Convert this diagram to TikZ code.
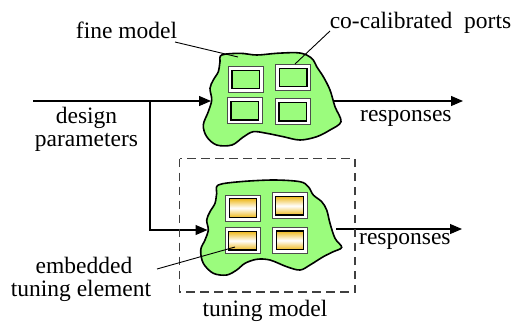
\documentclass[tikz,border=0pt]{standalone}
\usepackage{fontspec}
\setmainfont{Liberation Serif}
\newfontfamily\lbfont{Liberation Serif}
\usetikzlibrary{arrows.meta}
\definecolor{blobgreen}{RGB}{155,252,125}
\definecolor{goldy}{RGB}{238,185,30}
\begin{document}
\begin{tikzpicture}[x=1pt,y=-1pt,
  lbl/.style={font=\lbfont\fontsize{23.5}{22.5}\selectfont, inner sep=0pt},
  blob/.style={draw=black, line width=1.6pt, fill=blobgreen},
  conn/.style={draw=black, line width=1.1pt},
  arr/.style={conn, -{Triangle[length=12pt,width=10pt]}},
  leader/.style={draw=black, line width=0.9pt},
  portout/.style={draw=black!70, fill=white, line width=0.9pt, minimum width=35pt, minimum height=26pt, inner sep=0pt},
  portin/.style={draw=black, line width=1.2pt, minimum width=27.5pt, minimum height=18.5pt, inner sep=0pt},
  greenport/.style={portin, fill=blobgreen},
  goldport/.style={portin, top color=goldy, bottom color=goldy, middle color=white},
  tunebox/.style={draw=black!75, line width=1.1pt, dash pattern=on 8.5pt off 5.5pt}
]
\useasboundingbox (0,0) rectangle (513,322);

% connector coordinates
\coordinate (dp) at (33,101);
\coordinate (jn) at (150,101);
\coordinate (fin) at (211,101);
\coordinate (tin) at (207.5,230);
\coordinate (fout) at (334,101);
\coordinate (fend) at (463,101);
\coordinate (tout) at (336,229);
\coordinate (tend) at (462,229);

\draw[conn] (dp) -- (jn);
\draw[arr] (jn) -- (fin);
\draw[arr] (jn) |- (tin);
\draw[arr] (fout) -- (fend);
\draw[arr] (tout) -- (tend);

% fine model blob
\path[blob] plot[smooth cycle, tension=0.55] coordinates {
 (221.7,55) (240,53.3) (256.7,55) (276.7,53.3) (296.7,52.7) (306.7,55)
 (313.3,60) (316.7,66.7) (323.3,76.7) (330,90) (335,106.7) (341,121.7)
 (330,130) (316.7,136.7) (300,140) (283.3,136.7) (266.7,133.3) (253.3,131.7)
 (243.3,137) (232,145) (216.7,145) (206.7,136.7) (203.3,125) (208.3,111.7)
 (211.7,100) (210,88.3) (213.3,80) (218.3,71.7) (220,61.7)};

% tuning model blob
\path[blob] plot[smooth cycle, tension=0.55] coordinates {
 (218.3,185) (240,181.7) (273.3,180) (300,181.7) (308.3,186.7) (313.3,195)
 (321.7,201.7) (326.7,210) (330,223.3) (335,238.3) (341.7,247.3) (333.3,251.7)
 (323.3,256.7) (310,265) (300,270) (286.7,266.7) (270,260) (256.7,259.3)
 (245,263.3) (236.7,270) (226.7,275) (213.3,273.3) (203.3,263.3) (200.7,250)
 (205,240) (208.3,230) (206.7,220) (210,211.7) (215,203.3) (216.7,193.3)};

% ports of fine model
\node[portout] (f1) at (245.8,79.5) {};
\node[greenport] (f1i) at (f1) {};
\node[portout] (f2) at (293.3,77.5) {};
\node[greenport] (f2i) at (f2) {};
\node[portout] (f3) at (244.7,110.8) {};
\node[greenport] (f3i) at (f3) {};
\node[portout] (f4) at (292.8,111.7) {};
\node[greenport] (f4i) at (f4) {};

% ports of tuning model
\node[portout] (t1) at (243,208) {};
\node[goldport] (t1i) at (t1) {};
\node[portout] (t2) at (289.5,205.8) {};
\node[goldport] (t2i) at (t2) {};
\node[portout] (t3) at (242.5,240.7) {};
\node[goldport] (t3i) at (t3) {};
\node[portout] (t4) at (290,240.3) {};
\node[goldport] (t4i) at (t4) {};

% dashed tuning model box
\draw[tunebox] (179.5,158.5) rectangle (355,292);

% labels
\node[lbl, anchor=base] (fm) at (126.5,38.5) {fine model};
\node[lbl, anchor=base] (cc) at (420.5,28) {co-calibrated\ \ ports};
\node[lbl, anchor=base] (dsg) at (86.5,123.5) {design};
\node[lbl, anchor=base] (prm) at (86.5,146) {parameters};
\node[lbl, anchor=base west] (rs1) at (360,121.5) {responses};
\node[lbl, anchor=base west] (rs2) at (359,244) {responses};
\node[lbl, anchor=base] (emb) at (84,273.5) {embedded};
\node[lbl, anchor=base] (tel) at (81,296) {tuning element};
\node[lbl, anchor=base] (tm) at (265,316) {tuning model};

% leaders
\coordinate (fmA) at (175,42);
\coordinate (fmB) at (238,57);
\coordinate (ccA) at (330,31);
\coordinate (ccB) at (295,64);
\coordinate (emA) at (157,269);
\coordinate (emB) at (235,247);
\draw[leader] (fmA) -- (fmB);
\draw[leader] (ccA) -- (ccB);
\draw[leader] (emA) -- (emB);
\end{tikzpicture}
\end{document}
